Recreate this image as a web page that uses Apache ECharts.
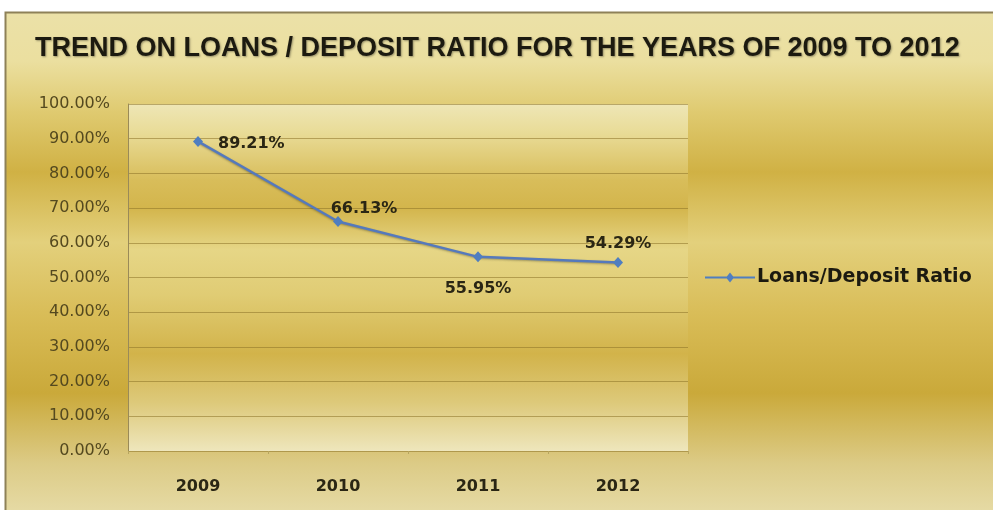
<!DOCTYPE html>
<html>
<head>
<meta charset="utf-8">
<style>
html,body{margin:0;padding:0;background:#ffffff;}
#chart{width:993px;height:510px;}
</style>
<script src="https://cdn.jsdelivr.net/npm/echarts@6/dist/echarts.min.js"></script>
</head>
<body>
<div id="chart"></div>
<script>
const titleText = 'TREND ON LOANS / DEPOSIT RATIO FOR THE YEARS OF 2009 TO 2012';
const categories = ['2009', '2010', '2011', '2012'];
const seriesName = 'Loans/Deposit Ratio';
const ratioValues = [89.21, 66.13, 55.95, 54.29];

const chart = echarts.init(document.getElementById('chart'), null, {renderer: 'canvas'});

const outerGrad = new echarts.graphic.LinearGradient(0, 0, 0, 1, [
  {offset: 0.00, color: '#ebe1a8'},
  {offset: 0.10, color: '#ebdf9f'},
  {offset: 0.20, color: '#dfca70'},
  {offset: 0.32, color: '#d0b144'},
  {offset: 0.46, color: '#e3d07c'},
  {offset: 0.60, color: '#d9bd58'},
  {offset: 0.76, color: '#caa93a'},
  {offset: 0.90, color: '#dccb86'},
  {offset: 1.00, color: '#e6dba6'}
]);

const plotGrad = new echarts.graphic.LinearGradient(0, 0, 0, 1, [
  {offset: 0.00, color: '#eee6b6'},
  {offset: 0.08, color: '#e9dc98'},
  {offset: 0.22, color: '#d8bd5a'},
  {offset: 0.30, color: '#d3b54c'},
  {offset: 0.42, color: '#e6d686'},
  {offset: 0.55, color: '#e0cc74'},
  {offset: 0.72, color: '#d2b34a'},
  {offset: 0.86, color: '#ddc97a'},
  {offset: 1.00, color: '#eee6bc'}
]);

const diamond = 'path://M0,5 L4,0 L8,5 L4,10 Z';
const legendIcon = 'path://M0,4 L50,4 L50,6 L0,6 Z M25,0 L29,5 L25,10 L21,5 Z';

// label placement per point
const labelPlacement = [
  {position: 'right', offset: [10, 2]},
  {position: 'top', offset: [26, 6]},
  {position: 'bottom', offset: [0, 13]},
  {position: 'top', offset: [0, 0]}
];

chart.setOption({
  animation: false,
  backgroundColor: '#ffffff',
  graphic: [{
    type: 'rect',
    z: -10,
    silent: true,
    shape: {x: 5.5, y: 12.5, width: 990, height: 500},
    style: {fill: outerGrad, stroke: '#8e8158', lineWidth: 2}
  }],
  title: {
    text: titleText,
    left: 30,
    top: 30,
    textStyle: {
      fontFamily: 'Liberation Sans',
      fontWeight: 'bold',
      fontSize: 27,
      color: '#1c1a10',
      textShadowColor: 'rgba(0,0,0,0.35)',
      textShadowBlur: 2,
      textShadowOffsetX: 1,
      textShadowOffsetY: 1
    }
  },
  legend: {
    left: 700,
    top: 263,
    itemWidth: 50,
    itemHeight: 10,
    data: [{name: seriesName, icon: legendIcon, itemStyle: {color: '#4f7ec0'}}],
    textStyle: {
      fontFamily: 'DejaVu Sans',
      fontWeight: 'bold',
      fontSize: 19,
      color: '#1c1a10',
      padding: [0, 0, 0, -3]
    }
  },
  grid: {
    left: 128,
    right: 305,
    top: 104,
    bottom: 59,
    show: true,
    backgroundColor: plotGrad,
    borderWidth: 0
  },
  xAxis: {
    type: 'category',
    data: categories,
    boundaryGap: true,
    axisLine: {show: false},
    axisTick: {show: true, length: 3, lineStyle: {color: '#b8a660'}},
    axisLabel: {
      margin: 28,
      fontFamily: 'DejaVu Sans',
      fontWeight: 'bold',
      fontSize: 16,
      color: '#2a2614'
    }
  },
  yAxis: {
    type: 'value',
    min: 0,
    max: 100,
    interval: 10,
    axisLine: {show: true, lineStyle: {color: '#9a8a58', width: 1}},
    axisTick: {show: false},
    axisLabel: {
      margin: 18,
      fontFamily: 'DejaVu Sans',
      fontSize: 16,
      color: '#54491f',
      formatter: v => v.toFixed(2) + '%'
    },
    splitLine: {show: true, lineStyle: {color: 'rgba(140,115,40,0.55)', width: 1}}
  },
  series: [{
    name: seriesName,
    type: 'line',
    data: ratioValues.map((v, i) => ({
      value: v,
      label: labelPlacement[i]
    })),
    symbol: diamond,
    symbolSize: [10, 11],
    lineStyle: {color: '#5579bc', width: 2.5, shadowColor: 'rgba(60,60,40,0.4)', shadowBlur: 2, shadowOffsetY: 1},
    itemStyle: {color: '#4f7ec0'},
    label: {
      show: true,
      fontFamily: 'DejaVu Sans',
      fontWeight: 'bold',
      fontSize: 16,
      color: '#2a2614',
      formatter: p => p.value.toFixed(2) + '%'
    }
  }]
});
</script>
</body>
</html>
